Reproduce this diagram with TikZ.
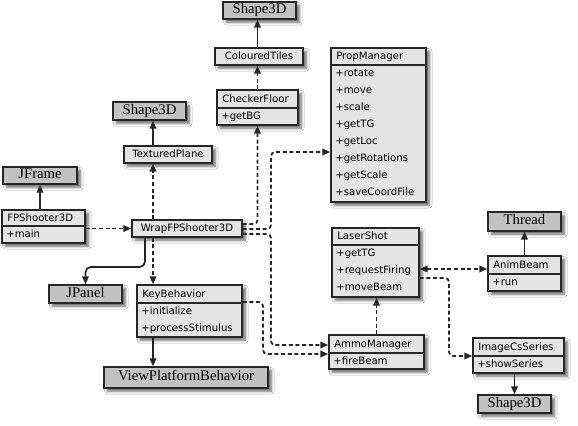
\documentclass[tikz,border=0pt]{standalone}
\usepackage{fontspec}
\usetikzlibrary{arrows.meta,fit,shadows.blur}
\newfontfamily\clsfont{DejaVu Sans}
\newfontfamily\extfont{Liberation Serif}
\definecolor{linec}{HTML}{262626}
\definecolor{lightfill}{HTML}{E4E4E4}
\definecolor{darkfill}{HTML}{C2C2C2}
\tikzset{
  boxbase/.style={draw=linec, line width=1.1pt, inner sep=0pt,
    blur shadow={shadow xshift=2.5pt, shadow yshift=-2.5pt, shadow blur radius=2pt, shadow opacity=60}},
  cls/.style={boxbase, fill=lightfill},
  ext/.style={boxbase, fill=darkfill},
  ctitle/.style={font=\clsfont\fontsize{7.6}{9}\selectfont, text=black, inner sep=0pt, text height=1.5ex, text depth=.3ex},
  crow/.style={ctitle},
  etitle/.style={font=\extfont\fontsize{11}{13}\selectfont, text=black, inner sep=0pt, text height=1.4ex, text depth=.3ex},
  divline/.style={draw=linec, line width=0.9pt},
  conn/.style={draw=linec, line width=1.3pt, -{Triangle[length=6pt,width=5pt]}},
  dep/.style={conn, dash pattern=on 3pt off 2pt},
  rel/.style={conn},
}
\newcommand\umlclass[8]{%
  \node[cls, fit={(#2,#3) (#4,#5)}] (#1) {};
  \draw[divline] (#2,#6) -- (#4,#6);
  \node[ctitle, anchor=west] (#1-t) at ({#2+5},{(#3+#6)/2}) {#7};
  \foreach \r [count=\i] in {#8} {\node[crow, anchor=west] (#1-r\i) at ({#2+4},{#6+8.5+17*(\i-1)}) {\r};}
}
\newcommand\umlsimple[6]{%
  \node[cls, fit={(#2,#3) (#4,#5)}] (#1) {};
  \node[ctitle] (#1-t) at (#1.center) {#6};
}
\newcommand\umlext[6]{%
  \node[ext, fit={(#2,#3) (#4,#5)}] (#1) {};
  \node[etitle] (#1-t) at (#1.center) {#6};
}
\begin{document}
\begin{tikzpicture}[x=0.75pt,y=-0.75pt]
\fill[white] (0,0) rectangle (578,425);
\useasboundingbox (0,0) rectangle (578,425);

% classes
\umlext{top3D}{223}{2}{296}{19}{Shape3D}
\umlsimple{ct}{215}{48}{303}{65}{ColouredTiles}
\umlclass{cf}{217}{90}{298}{125}{108}{CheckerFloor}{+getBG}
\umlext{mid3D}{113}{102}{186}{120}{Shape3D}
\umlsimple{tp}{124}{146}{212}{163}{TexturedPlane}
\umlext{jf}{3}{167}{77}{184}{JFrame}
\umlclass{fps}{2}{210}{85}{243}{226}{FPShooter3D}{+main}
\umlsimple{wrap}{132}{220}{242}{237}{WrapFPShooter3D}
\umlext{jp}{49}{285}{122}{303}{JPanel}
\umlclass{kb}{137}{285}{242}{337}{303}{KeyBehavior}{+initialize,+processStimulus}
\umlext{vpb}{104}{367}{268}{388}{ViewPlatformBehavior}
\umlclass{pm}{331}{48}{426}{202}{65}{PropManager}{+rotate,+move,+scale,+getTG,+getLoc,+getRotations,+getScale,+saveCoordFile}
\umlext{thr}{488}{212}{561}{231}{Thread}
\umlclass{ls}{332}{228}{419}{297}{245}{LaserShot}{+getTG,+requestFiring,+moveBeam}
\umlclass{ab}{488}{256}{561}{291}{274}{AnimBeam}{+run}
\umlclass{am}{329}{335}{424}{369}{353}{AmmoManager}{+fireBeam}
\umlclass{ics}{473}{338}{564}{373}{356}{ImageCsSeries}{+showSeries}
\umlext{bot3D}{478}{395}{551}{413}{Shape3D}

% routing helpers
\coordinate (colA) at (153,0);
\coordinate (colC) at (271,0);
\coordinate (colD) at (263,0);
\coordinate (colF) at (449,0);
\coordinate (colK) at (145,0);
\coordinate (r1) at (0,224);
\coordinate (r2) at (0,229);
\coordinate (r3) at (0,234);
\coordinate (pmA) at (0,152);
\coordinate (amA) at (0,345);
\coordinate (amB) at (0,354);
\coordinate (kbA) at (0,302);
\coordinate (lsA) at (0,269);
\coordinate (lsB) at (0,278);
\coordinate (icsA) at (0,356);
\coordinate (jpA) at (0,267);

% connectors
\draw[rel] (cf.north |- ct.north) -- (cf.north |- top3D.south);
\draw[dep] (cf.north) -- (cf.north |- ct.south);
\draw[rel] (tp.north -| colA) -- (mid3D.south -| colA);
\draw[dep] (wrap.north -| colA) -- (tp.south -| colA);
\draw[dep] (wrap.south -| colA) -- (kb.north -| colA);
\draw[rel] (kb.south -| colA) -- (vpb.north -| colA);
\draw[rel] (fps.north -| jf.south) -- (jf.south);
\draw[dep] (fps.east |- wrap.west) -- (wrap.west);
\draw[rel, rounded corners=4pt] (wrap.south -| colK) |- (jp.north |- jpA) -- (jp.north);
\draw[dep, rounded corners=3pt] (wrap.east |- r1) -| (cf.south);
\draw[dep, rounded corners=3pt] (wrap.east |- r2) -| (colC |- pmA) -- (pm.west |- pmA);
\draw[dep, rounded corners=3pt] (wrap.east |- r3) -| (colC |- amA) -- (am.west |- amA);
\draw[dep, rounded corners=3pt] (kb.east |- kbA) -| (colD |- amB) -- (am.west |- amB);
\draw[dep] (am.north) -- (am.north |- ls.south);
\draw[dep, {Triangle[length=6pt,width=5pt]}-{Triangle[length=6pt,width=5pt]}] (ls.east |- lsA) -- (ab.west |- lsA);
\draw[dep, rounded corners=3pt] (ls.east |- lsB) -| (colF |- icsA) -- (ics.west |- icsA);
\draw[rel] (ab.north) -- (ab.north |- thr.south);
\draw[rel] (ics.south -| bot3D.north) -- (bot3D.north);
\end{tikzpicture}
\end{document}
